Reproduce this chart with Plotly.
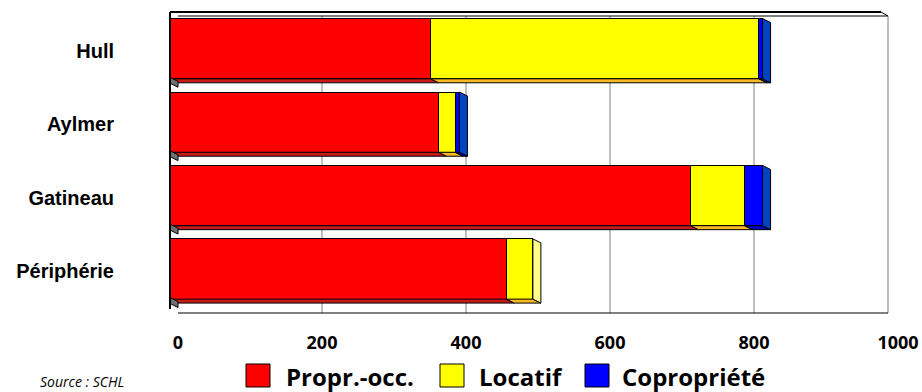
import plotly.graph_objects as go

categories = ["Hull", "Aylmer", "Gatineau", "Périphérie"]
proprio = [362, 373, 723, 467]
locatif = [456, 23, 75, 37]
copro = [5, 6, 25, 0]
series_names = ["Propr.-occ.", "Locatif", "Copropriété"]
tick_vals = [0, 200, 400, 600, 800, 1000]
tick_text = ["0", "200", "400", "600", "800", "1000"]

front_colors = ["#FF0000", "#FFFF00", "#0000FF"]
bottom_colors = ["#C81A1A", "#F5B820", "#0000C0"]
side_colors = ["#C81A1A", "#FFFF88", "#0044C0"]

W, H = 922, 392
L, R, T, B = 170, 32, 12, 84
plot_w = W - L - R
plot_h = H - T - B
xmax = 1000
bargap = 0.18
bw = 1 - bargap
dx = 8 * xmax / plot_w             # 3D depth in data units (x)
dy = 4 * len(categories) / plot_h  # 3D depth in category units (y)

fig = go.Figure()
all_series = [proprio, locatif, copro]
for name, vals, col in zip(series_names, all_series, front_colors):
    fig.add_trace(go.Bar(
        y=categories, x=vals, name=name, orientation="h",
        marker=dict(color=col, line=dict(color="black", width=1)),
        showlegend=False,
    ))


def px_x(px):
    return (px - L) / plot_w


def px_y(py):
    return (H - B - py) / plot_h


shapes = []
# back-wall gridlines
for v in tick_vals[1:-1]:
    shapes.append(dict(type="line", xref="x", yref="paper", x0=v + dx, x1=v + dx,
                       y0=px_y(313), y1=px_y(16), line=dict(color="#808080", width=1),
                       layer="below"))
# 3D faces
for i in range(len(categories)):
    yt = i - bw / 2
    yb = i + bw / 2
    start = 0
    segs = []
    for j, vals in enumerate(all_series):
        v = vals[i]
        if v > 0:
            segs.append((start, start + v, j))
        start += v
    for (x0, x1, j) in segs:
        path = f"M {x0},{yb} L {x1},{yb} L {x1 + dx},{yb + dy} L {x0 + dx},{yb + dy} Z"
        shapes.append(dict(type="path", xref="x", yref="y", path=path,
                           fillcolor=bottom_colors[j], line=dict(color="black", width=1)))
    x0, x1, j = segs[-1]
    path = f"M {x1},{yt} L {x1 + dx},{yt + dy} L {x1 + dx},{yb + dy} L {x1},{yb} Z"
    shapes.append(dict(type="path", xref="x", yref="y", path=path,
                       fillcolor=side_colors[j], line=dict(color="black", width=1)))
    # left wall edge
    path = f"M 0,{yb - 0.02} L {dx},{yb + dy - 0.02} L {dx},{yb + dy + 0.06} L 0,{yb + 0.06} Z"
    shapes.append(dict(type="path", xref="x", yref="y", path=path,
                       fillcolor="#707070", line=dict(color="black", width=1)))

# frame
shapes.append(dict(type="line", xref="paper", yref="paper", x0=0, x1=px_x(881), y0=px_y(12), y1=px_y(12),
                   line=dict(color="black", width=2)))
shapes.append(dict(type="line", xref="paper", yref="paper", x0=px_x(178), x1=px_x(888), y0=px_y(16), y1=px_y(16),
                   line=dict(color="black", width=1)))
shapes.append(dict(type="line", xref="paper", yref="paper", x0=px_x(881), x1=px_x(888), y0=px_y(12), y1=px_y(16),
                   line=dict(color="black", width=1)))
shapes.append(dict(type="line", xref="paper", yref="paper", x0=0, x1=0, y0=px_y(309), y1=px_y(12),
                   line=dict(color="black", width=2)))
shapes.append(dict(type="line", xref="paper", yref="paper", x0=px_x(888), x1=px_x(888),
                   y0=px_y(313), y1=px_y(16), line=dict(color="#808080", width=1)))
shapes.append(dict(type="line", xref="paper", yref="paper", x0=px_x(178), x1=px_x(888), y0=px_y(313), y1=px_y(313),
                   line=dict(color="black", width=1)))

# custom legend
legend_box_x = [246, 440, 585]
legend_text_x = [284, 477, 620]
annotations = []
for name, col, bx, tx in zip(series_names, front_colors, legend_box_x, legend_text_x):
    shapes.append(dict(type="rect", xref="paper", yref="paper",
                       x0=px_x(bx), x1=px_x(bx + 24), y0=px_y(364), y1=px_y(387),
                       fillcolor=col, line=dict(color="black", width=1)))
    annotations.append(dict(xref="paper", yref="paper", x=px_x(tx), y=px_y(376),
                            xanchor="left", yanchor="middle", text=name,
                            showarrow=False,
                            font=dict(family="Open Sans", size=24, color="black", weight="bold")))
annotations.append(dict(xref="paper", yref="paper", x=px_x(38), y=px_y(381),
                        xanchor="left", yanchor="middle", text="<i>Source : SCHL</i>",
                        showarrow=False, font=dict(family="Open Sans", size=14, color="black")))

fig.update_layout(
    barmode="stack",
    bargap=bargap,
    width=W, height=H,
    margin=dict(l=L, r=R, t=T, b=B, autoexpand=False),
    plot_bgcolor="white",
    paper_bgcolor="white",
    shapes=shapes,
    annotations=annotations,
    showlegend=False,
    xaxis=dict(range=[0, xmax], tickvals=tick_vals, ticktext=tick_text,
               showgrid=False, zeroline=False, showline=False, automargin=False,
               tickfont=dict(family="Open Sans", size=18, color="black", weight="bold"),
               ticklabelshift=8, ticklabelstandoff=22, ticks=""),
    yaxis=dict(categoryorder="array", categoryarray=categories, autorange="reversed",
               showgrid=False, zeroline=False, showline=False, ticks="", automargin=False,
               tickfont=dict(family="Liberation Sans", size=20, color="black", weight="bold"),
               ticklabelstandoff=55, ticklabelshift=-2),
)

fig.write_html("out.html")
